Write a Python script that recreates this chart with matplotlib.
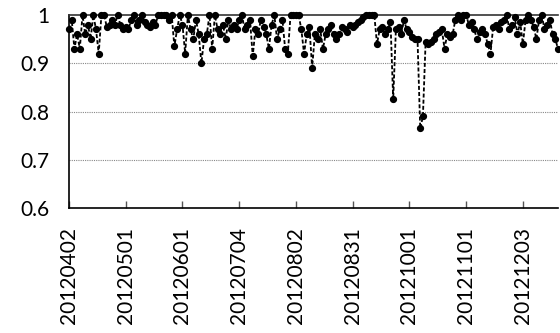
import numpy as np
import matplotlib
matplotlib.use("Agg")
import matplotlib.pyplot as plt

# valores (um ponto por dia de negociacao)
valores = [
    0.97, 0.99, 0.93, 0.96, 0.93, 1.0, 0.96, 0.98, 0.95, 1.0,
    0.97, 0.92, 1.0, 1.0, 0.975, 0.98, 0.99, 0.98, 1.0, 0.98,
    0.97, 0.975, 0.97, 0.99, 1.0, 0.98, 0.99, 1.0, 0.985, 0.98,
    0.975, 0.985, 0.98, 1.0, 1.0, 1.0, 1.0, 0.99, 1.0, 0.935,
    0.97, 1.0, 0.98, 0.92, 1.0, 0.97, 0.95, 0.99, 0.96, 0.90,
    0.95, 0.96, 1.0, 0.93, 1.0, 0.97, 0.96, 0.98, 0.95, 0.99,
    0.97, 0.98, 0.97, 0.99, 1.0, 0.97, 0.98, 0.99, 0.915, 0.97,
    0.96, 0.99, 0.975, 0.96, 0.93, 0.98, 1.0, 0.95, 0.97, 0.99,
    0.93, 0.92, 1.0, 1.0, 1.0, 1.0, 0.97, 0.92, 0.96, 0.975,
    0.89, 0.96, 0.95, 0.97, 0.93, 0.96, 0.97, 0.98, 0.96, 0.95,
    0.96, 0.975, 0.97, 0.965, 0.98, 0.975, 0.98, 0.985, 0.99, 0.995,
    1.0, 1.0, 1.0, 1.0, 0.94, 0.97, 0.975, 0.96, 0.97, 0.985,
    0.825, 0.97, 0.975, 0.96, 0.99, 0.97, 0.965, 0.955, 0.95, 0.95,
    0.765, 0.79, 0.945, 0.94, 0.945, 0.95, 0.96, 0.965, 0.97, 0.93,
    0.96, 0.955, 0.96, 0.99, 1.0, 0.99, 1.0, 1.0, 0.98, 0.985,
    0.97, 0.95, 0.965, 0.97, 0.96, 0.94, 0.92, 0.975, 0.98, 0.97,
    0.985, 0.99, 1.0, 0.97, 0.98, 0.995, 0.96, 0.985, 0.94, 0.99,
    1.0, 0.99, 0.975, 0.95, 0.99, 1.0, 0.97, 0.98, 0.99, 0.96,
    0.95, 0.93,
]
rotulos_x = ["20120402", "20120501", "20120601", "20120704", "20120802",
             "20120831", "20121001", "20121101", "20121203"]
passo_rotulo = 21  # um rotulo a cada 21 pontos
ticks_y = [0.6, 0.7, 0.8, 0.9, 1.0]
rotulos_y = ["0.6", "0.7", "0.8", "0.9", "1"]

plt.rcParams["font.family"] = ["Lato", "DejaVu Sans"]

fig = plt.figure(figsize=(5.6, 3.33), dpi=100)
ax = fig.add_axes([69 / 560, 1 - 208 / 333, 489 / 560, 193 / 333])

x = np.arange(len(valores))
ax.plot(x, valores, color="black", linestyle=(0, (2.2, 1.2)), linewidth=1.3,
        marker="o", markersize=4.2, zorder=3, clip_on=False)

ax.set_xlim(0, len(valores) - 1)
ax.set_ylim(0.6, 1.0)

pos = np.arange(len(rotulos_x)) * passo_rotulo
ax.set_xticks(pos)
ax.set_xticklabels(rotulos_x, rotation=90, fontsize=15)
ax.tick_params(axis="x", direction="in", length=5, width=1, color="#555555", pad=14)

ax.set_yticks(ticks_y)
ax.set_yticklabels(rotulos_y, fontsize=15)
ax.tick_params(axis="y", length=0, pad=14)

# linhas de grade pontilhadas
for v in [0.7, 0.8, 0.9]:
    ax.axhline(v, color="#888888", linestyle=(0, (1, 1)), linewidth=0.8, zorder=1)

for s in ["left", "bottom"]:
    ax.spines[s].set_color("black")
    ax.spines[s].set_linewidth(1.2)
ax.spines["top"].set_color("#333333")
ax.spines["top"].set_linewidth(1.2)
ax.spines["right"].set_visible(False)

fig.savefig("out.png", dpi=100)
